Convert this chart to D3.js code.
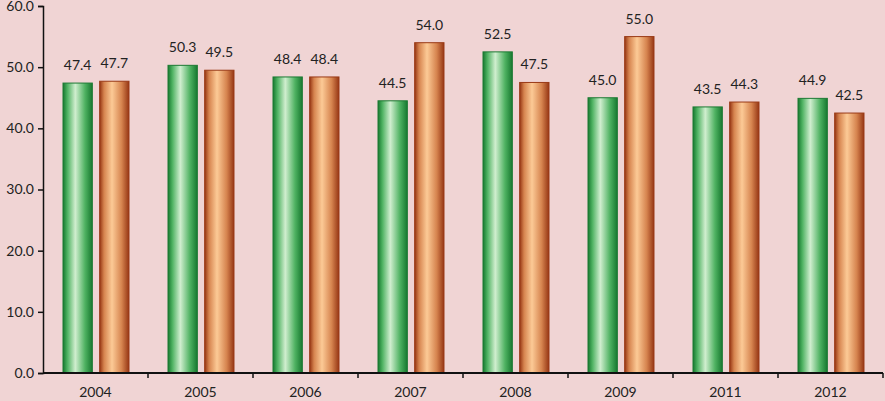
<!DOCTYPE html>
<html>
<head>
<meta charset="utf-8">
<script src="https://cdn.jsdelivr.net/npm/d3@7"></script>
<style>
  body { margin: 0; background: #f0d4d4; }
  svg { display: block; }
</style>
</head>
<body>
<div id="chart"></div>
<script>
// Data
const years = ["2004", "2005", "2006", "2007", "2008", "2009", "2011", "2012"];
const seriesA = [47.4, 50.3, 48.4, 44.5, 52.5, 45.0, 43.5, 44.9];
const seriesB = [47.7, 49.5, 48.4, 54.0, 47.5, 55.0, 44.3, 42.5];
const yTicks = [0, 10, 20, 30, 40, 50, 60];

let width = 885, height = 401;
let margin = { top: 6, bottom: 28, left: 43, right: 2 };

let svg = d3.select("#chart")
    .append("svg")
    .attr("width", width)
    .attr("height", height)
    .style("background", "#f0d4d4");

// Gradients for the cylinder-like bars
let defs = svg.append("defs");
function addGradient(id, edge, mid, light) {
    let g = defs.append("linearGradient")
        .attr("id", id)
        .attr("x1", "0%").attr("x2", "100%")
        .attr("y1", "0%").attr("y2", "0%");
    g.append("stop").attr("offset", "0%").attr("stop-color", edge);
    g.append("stop").attr("offset", "15%").attr("stop-color", mid);
    g.append("stop").attr("offset", "42%").attr("stop-color", light);
    g.append("stop").attr("offset", "75%").attr("stop-color", mid);
    g.append("stop").attr("offset", "100%").attr("stop-color", edge);
}
addGradient("gradGreen", "#17782f", "#4fb262", "#d0eecf");
addGradient("gradOrange", "#963614", "#d6844f", "#fcca96");

// Scales
let x0 = d3.scaleBand()
    .domain(years)
    .range([margin.left, width - margin.right]);

let x1 = d3.scaleBand()
    .domain(["a", "b"])
    .range([20, x0.bandwidth() - 19])
    .paddingInner(0.2);

let y = d3.scaleLinear()
    .domain([0, 60])
    .range([height - margin.bottom, margin.top]);

// Bars
let groups = svg.selectAll(".yearGroup")
    .data(years)
    .enter()
    .append("g")
    .attr("class", "yearGroup")
    .attr("transform", d => `translate(${x0(d)},0)`);

let rows = years.map((yr, i) => [
    { key: "a", value: seriesA[i], fill: "url(#gradGreen)", stroke: "#1c7a33" },
    { key: "b", value: seriesB[i], fill: "url(#gradOrange)", stroke: "#9a3a16" }
]);

groups.each(function(d, i) {
    let g = d3.select(this);
    g.selectAll("rect")
        .data(rows[i])
        .enter()
        .append("rect")
        .attr("x", r => x1(r.key))
        .attr("y", r => y(r.value))
        .attr("width", x1.bandwidth())
        .attr("height", r => y(0) - y(r.value))
        .attr("fill", r => r.fill)
        .attr("stroke", r => r.stroke)
        .attr("stroke-width", 1);

    g.selectAll("text")
        .data(rows[i])
        .enter()
        .append("text")
        .attr("x", r => x1(r.key) + x1.bandwidth() / 2)
        .attr("y", r => y(r.value) - 13)
        .attr("text-anchor", "middle")
        .style("font-family", "Lato, 'Open Sans', sans-serif")
        .style("font-size", "14px")
        .style("fill", "#222")
        .text(r => r.value.toFixed(1));
});

// Y axis
let yAxis = svg.append("g")
    .attr("transform", `translate(${margin.left},0)`)
    .call(d3.axisLeft(y)
        .tickValues(yTicks)
        .tickSize(5)
        .tickPadding(4)
        .tickFormat(d => d.toFixed(1)));
yAxis.select(".domain").attr("stroke", "#111").attr("stroke-width", 1.5);
yAxis.selectAll(".tick line").attr("stroke", "#111").attr("stroke-width", 1.5);
yAxis.selectAll("text")
    .style("font-family", "Lato, 'Open Sans', sans-serif")
    .style("font-size", "14px")
    .style("fill", "#222");

// X axis: ticks at category boundaries, labels centred
let xAxis = svg.append("g")
    .attr("transform", `translate(0,${y(0)})`);
xAxis.append("line")
    .attr("x1", margin.left)
    .attr("x2", width - margin.right)
    .attr("stroke", "#111")
    .attr("stroke-width", 2);
let bounds = years.map(d => x0(d)).concat([x0.range()[1]]);
xAxis.selectAll(".bound")
    .data(bounds.slice(1))
    .enter()
    .append("line")
    .attr("class", "bound")
    .attr("x1", d => d).attr("x2", d => d)
    .attr("y1", 0).attr("y2", 5)
    .attr("stroke", "#111")
    .attr("stroke-width", 1.5);
xAxis.selectAll(".lbl")
    .data(years)
    .enter()
    .append("text")
    .attr("class", "lbl")
    .attr("x", d => x0(d) + x0.bandwidth() / 2)
    .attr("y", 24)
    .attr("text-anchor", "middle")
    .style("font-family", "Lato, 'Open Sans', sans-serif")
    .style("font-size", "14px")
    .style("fill", "#222")
    .text(d => d);
</script>
</body>
</html>
